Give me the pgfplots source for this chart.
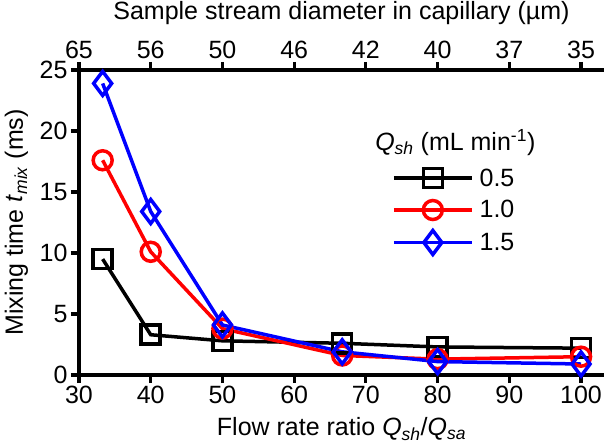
\documentclass[border=0pt]{standalone}
\usepackage{fontspec}
\setmainfont{Liberation Sans}
\usepackage{pgfplots}
\pgfplotsset{compat=1.18}
\begin{document}
\begin{tikzpicture}
\pgfplotsset{
  common/.style={
    scale only axis, width=525pt, height=305pt,
    xmin=30, xmax=103.2, ymin=0, ymax=25,
    /pgf/number format/assume math mode=true,
    tick label style={font=\fontsize{25}{29}\selectfont},
    label style={font=\fontsize{25}{29}\selectfont},
    axis line style={line width=3.2pt,-},
    major tick style={line width=3.2pt,black},
    major tick length=8pt,
    tick align=outside,
  }
}
\begin{axis}[common,
  axis x line*=top, axis y line=none,
  xtick={30,40,...,100},
  xticklabels={65,56,50,46,42,40,37,35},
  xlabel={Sample stream diameter in capillary (µm)},
  xlabel style={at={(axis description cs:0.5,1.167)}, anchor=base},
]
\end{axis}
\begin{axis}[common, name=ax,
  axis x line*=bottom, axis y line*=left,
  xtick={30,40,...,100},
  ytick={0,5,...,25},
  xlabel={Flow rate ratio \textit{Q}\textsubscript{\textit{sh}}/\textit{Q}\textsubscript{\textit{sa}}},
  ylabel={Mixing time \textit{t}\textsubscript{\textit{mix}} (ms)},
  ylabel style={at={(axis description cs:-0.1067,0.5)}, anchor=base, rotate=0},
  xlabel style={at={(axis description cs:0.5,-0.2)}, anchor=base},
  clip=false,
  legend style={draw=none, fill=none, at={(rel axis cs:0.596,0.684)}, anchor=north west,
    font=\fontsize{25}{29}\selectfont, row sep=9pt, inner sep=0pt},
  legend cell align=left,
  legend image code/.code={\draw[mark repeat=2,mark phase=2] plot coordinates {(0pt,0pt) (39pt,0pt) (78pt,0pt)};},
]
\addplot[black, line width=3.5pt, mark=square, mark size=9.5pt, mark options={solid,line width=3.5pt}]
  coordinates {(33.3,9.5) (40,3.3) (50,2.8) (66.7,2.6) (80,2.3) (100,2.2)};
\addlegendentry{\hspace{4pt}0.5}
\addplot[red, line width=3.5pt, mark=o, mark size=9.5pt, mark options={solid,line width=3.5pt}]
  coordinates {(33.3,17.6) (40,10.1) (50,3.8) (66.7,1.6) (80,1.3) (100,1.5)};
\addlegendentry{\hspace{4pt}1.0}
\addplot[blue, line width=3.5pt, mark=diamond, mark size=12pt, mark options={solid,line width=3.5pt}]
  coordinates {(33.3,23.9) (40,13.4) (50,4.1) (66.7,1.9) (80,1.1) (100,0.9)};
\addlegendentry{\hspace{4pt}1.5}
\node[anchor=west, font=\fontsize{25}{29}\selectfont, inner sep=0pt] at (rel axis cs:0.564,0.761)
  {\textit{Q}\textsubscript{\textit{sh}} (mL min\textsuperscript{-1})};
\end{axis}
\pgfresetboundingbox
\path[use as bounding box] ([shift={(-79pt,-71pt)}]ax.south west) rectangle ([shift={(0pt,70pt)}]ax.north east);
\end{tikzpicture}
\end{document}
